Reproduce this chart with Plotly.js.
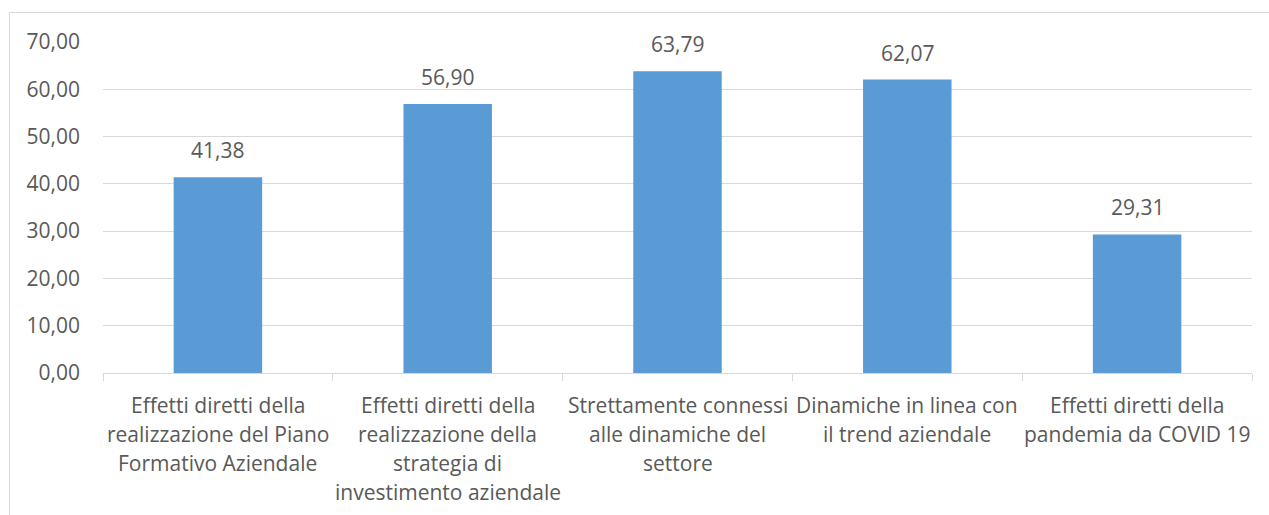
<!DOCTYPE html>
<html><head><meta charset="utf-8">
<script src="https://cdn.plot.ly/plotly-3.0.1.min.js"></script>
<style>html,body{margin:0;padding:0;background:#fff}#c{width:1269px;height:515px}</style>
</head><body><div id="c"></div>
<script>
const categories = [
  "Effetti diretti della<br>realizzazione del Piano<br>Formativo Aziendale",
  "Effetti diretti della<br>realizzazione della<br>strategia di<br>investimento aziendale",
  "Strettamente connessi<br>alle dinamiche del<br>settore",
  "Dinamiche in linea con<br>il trend aziendale",
  "Effetti diretti della<br>pandemia da COVID 19"
];
const values = [41.38, 56.90, 63.79, 62.07, 29.31];
const yTicks = [0, 10, 20, 30, 40, 50, 60, 70];

const font = "Open Sans, sans-serif";
const textColor = "#595959";
const fs = 21;

const annotations = [];
categories.forEach((c, i) => {
  annotations.push({
    x: i, y: values[i], xref: "x", yref: "y",
    text: values[i].toFixed(2).replace(".", ","),
    showarrow: false, yanchor: "bottom", yshift: 11,
    font: {family: font, size: fs, color: textColor}
  });
  c.split("<br>").forEach((line, j) => {
    annotations.push({
      x: i, y: 0, xref: "x", yref: "y",
      text: line, showarrow: false, yanchor: "middle",
      yshift: -32 - j * 29,
      font: {family: font, size: fs, color: textColor}
    });
  });
});

const trace = {
  type: "bar",
  x: categories.map((c, i) => i),
  y: values,
  marker: {color: "#5B9BD5"},
  width: 0.385,
  hoverinfo: "none"
};

const layout = {
  width: 1269, height: 515,
  margin: {l: 103, r: 17, t: 42, b: 142},
  paper_bgcolor: "#ffffff", plot_bgcolor: "#ffffff",
  showlegend: false,
  separators: ",.",
  xaxis: {
    range: [-0.5, 4.5],
    tickvals: [-0.5, 0.5, 1.5, 2.5, 3.5, 4.5],
    ticktext: ["", "", "", "", "", ""],
    ticks: "outside", ticklen: 7, tickcolor: "#d9d9d9", tickwidth: 1,
    showgrid: false, zeroline: false,
    showline: true, linecolor: "#d9d9d9", linewidth: 1,
    fixedrange: true
  },
  yaxis: {
    range: [0, 70],
    tickvals: yTicks,
    tickformat: ".2f",
    showgrid: true, gridcolor: "#d9d9d9", gridwidth: 1,
    zeroline: false, showline: false,
    ticks: "", ticklabelstandoff: 22,
    tickfont: {family: font, size: fs, color: textColor},
    fixedrange: true
  },
  annotations: annotations,
  shapes: [{
    type: "rect", xref: "paper", yref: "paper",
    x0: (9.5 - 103) / 1149, x1: (1290 - 103) / 1149,
    y0: (373 - 530) / 331, y1: (373 - 12.5) / 331,
    line: {color: "#d9d9d9", width: 1}, fillcolor: "rgba(0,0,0,0)", layer: "below"
  }]
};

Plotly.newPlot("c", [trace], layout, {displayModeBar: false, staticPlot: true});
</script></body></html>
